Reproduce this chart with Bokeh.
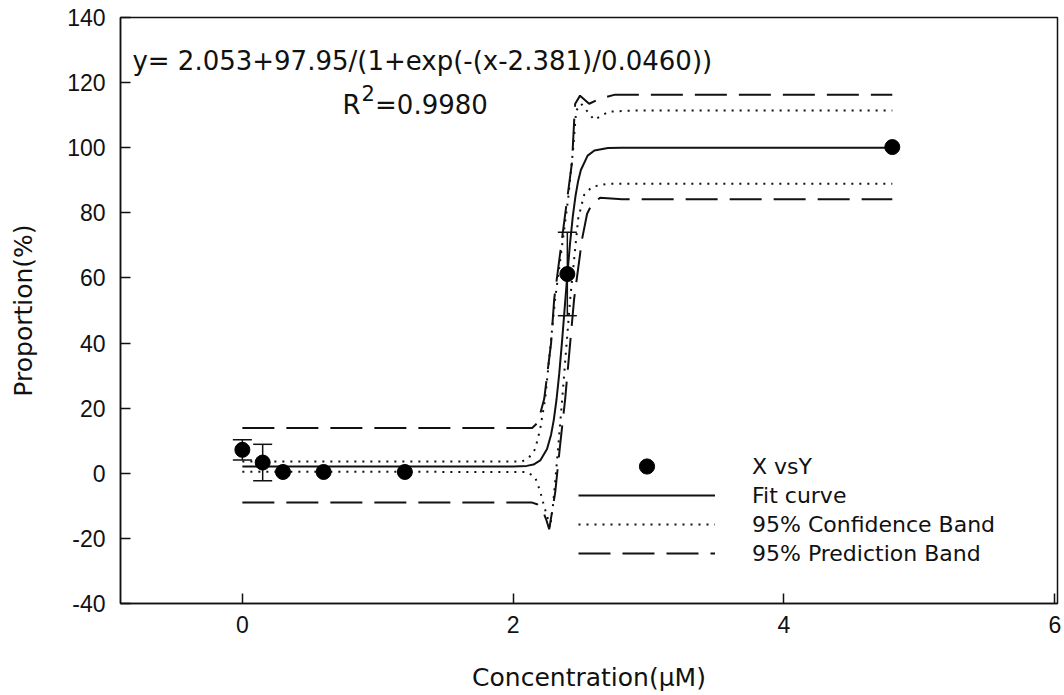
from bokeh.plotting import figure
from bokeh.models import (Range1d, FixedTicker, Legend, LegendItem, Label,
                          Whisker, TeeHead, ColumnDataSource, PrintfTickFormatter)
from bokeh.embed import file_html
from bokeh.resources import INLINE

# ---- data ----
x_data = [0.0, 0.15, 0.3, 0.6, 1.2, 2.4, 4.8]
y_data = [7.2, 3.3, 0.4, 0.4, 0.4, 61.2, 100.2]
y_err = [3.1, 5.6, 0.0, 0.0, 0.0, 12.8, 0.0]

fit_x = [0.0, 2.0, 2.1, 2.15, 2.2, 2.25, 2.28, 2.3, 2.32, 2.34, 2.36, 2.38,
         2.40, 2.42, 2.44, 2.46, 2.48, 2.5, 2.55, 2.6, 2.7, 2.8, 4.8]
fit_y = [2.05, 2.08, 2.27, 2.69, 3.93, 7.43, 11.86, 16.41, 22.59, 30.53, 40.03,
         50.49, 60.99, 70.64, 78.75, 85.09, 89.80, 93.15, 97.57, 99.17, 99.90,
         99.99, 100.0]

ci_up_x = [0.0, 2.066, 2.118, 2.162, 2.199, 2.236, 2.310, 2.406, 2.443, 2.465,
           2.502, 2.531, 2.598, 2.708, 2.878, 4.8]
ci_up_y = [3.6, 3.6, 4.9, 7.4, 13.5, 22.8, 53.5, 84.3, 99.7, 111.4,
           113.5, 112.0, 108.6, 111.1, 111.4, 111.4]

ci_lo_x = [0.0, 2.103, 2.162, 2.199, 2.229, 2.258, 2.273, 2.295, 2.325, 2.362,
           2.421, 2.480, 2.524, 2.583, 2.694, 4.8]
ci_lo_y = [0.5, 0.4, -1.2, -5.5, -10.2, -14.2, -16.6, -9.5, 4.3, 22.8,
           53.5, 78.2, 85.5, 88.0, 88.9, 88.9]

pi_up_x = [0.0, 2.14, 2.177, 2.199, 2.229, 2.280, 2.303, 2.399, 2.435, 2.450,
           2.458, 2.494, 2.561, 2.642, 2.753, 4.8]
pi_up_y = [13.9, 13.9, 15.4, 18.2, 22.8, 40.0, 53.5, 84.3, 95.7, 108.0,
           113.5, 116.0, 113.5, 115.1, 116.3, 116.3]

pi_lo_x = [0.0, 2.140, 2.177, 2.214, 2.244, 2.266, 2.310, 2.345, 2.384, 2.450,
           2.509, 2.546, 2.583, 2.642, 2.804, 4.8]
pi_lo_y = [-9.0, -9.0, -9.5, -11.1, -14.2, -17.2, -6.0, 8.0, 22.8, 53.5,
           72.0, 79.7, 82.8, 84.6, 84.2, 84.2]

x_ticks = [0, 2, 4, 6]
y_ticks = [-40, -20, 0, 20, 40, 60, 80, 100, 120, 140]

equation = "y= 2.053+97.95/(1+exp(-(x-2.381)/0.0460))"
r2_value = "=0.9980"

FONT = "DejaVu Sans"
INK = "#111111"

p = figure(width=1064, height=695, x_range=Range1d(-0.9, 6.02),
           y_range=Range1d(-40, 140), output_backend="svg",
           toolbar_location=None, min_border_left=120, min_border_right=7,
           min_border_top=17, min_border_bottom=92)
p.xgrid.visible = False
p.ygrid.visible = False
p.outline_line_color = INK
p.outline_line_width = 1.5
p.outline_line_alpha = 1.0
p.background_fill_color = "white"
p.border_fill_color = "white"

for ax in (p.xaxis[0], p.yaxis[0]):
    ax.axis_line_color = INK
    ax.axis_line_width = 1.5
    ax.major_tick_line_color = INK
    ax.major_tick_line_width = 1.5
    ax.major_tick_in = 10
    ax.major_tick_out = 0
    ax.minor_tick_line_color = None
    ax.major_label_text_font = "Liberation Sans"
    ax.major_label_text_font_size = "23px"
    ax.major_label_text_color = INK
    ax.axis_label_text_font = FONT
    ax.axis_label_text_font_size = "25px"
    ax.axis_label_text_font_style = "normal"
    ax.axis_label_text_color = INK
    ax.formatter = PrintfTickFormatter(format="%d")

p.xaxis.ticker = FixedTicker(ticks=x_ticks)
p.yaxis.ticker = FixedTicker(ticks=y_ticks)
p.xaxis.axis_label = "Concentration(µM)"
p.yaxis.axis_label = "Proportion(%)"
p.xaxis.major_label_standoff = 12
p.yaxis.major_label_standoff = 15
p.xaxis.axis_label_standoff = 27
p.yaxis.axis_label_standoff = 26

# bands and fit
pi_up = p.line(pi_up_x, pi_up_y, line_color=INK, line_width=2, line_dash="32 12")
p.line(pi_lo_x, pi_lo_y, line_color=INK, line_width=2, line_dash="32 12")
ci_up = p.line(ci_up_x, ci_up_y, line_color=INK, line_width=2, line_dash="2 6")
p.line(ci_lo_x, ci_lo_y, line_color=INK, line_width=2, line_dash="2 6")
fit = p.line(fit_x, fit_y, line_color=INK, line_width=2)

# error bars
ex, lo, hi = [], [], []
for xv, yv, ev in zip(x_data, y_data, y_err):
    if ev > 0:
        ex.append(xv)
        lo.append(yv - ev)
        hi.append(yv + ev)
wsrc = ColumnDataSource(dict(x=ex, lower=lo, upper=hi))
p.add_layout(Whisker(source=wsrc, base="x", lower="lower", upper="upper",
                     line_color=INK, line_width=1.5,
                     upper_head=TeeHead(size=19, line_color=INK, line_width=1.5),
                     lower_head=TeeHead(size=19, line_color=INK, line_width=1.5)))

sc = p.scatter(x_data, y_data, size=15, color="black")

common = dict(glyph_width=137, label_standoff=37, padding=0, margin=0,
              border_line_alpha=0, background_fill_alpha=0,
              label_text_font=FONT, label_text_font_size="22px",
              label_text_color=INK)

legend_pts = Legend(items=[LegendItem(label="X vsY", renderers=[sc])],
                    location=(458, 118), glyph_height=38, label_height=26,
                    spacing=0, **common)
legend_lines = Legend(items=[
    LegendItem(label="Fit curve", renderers=[fit]),
    LegendItem(label="95% Confidence Band", renderers=[ci_up]),
    LegendItem(label="95% Prediction Band", renderers=[pi_up]),
], location=(458, 37), glyph_height=26, label_height=26, spacing=3, **common)
p.add_layout(legend_pts)
p.add_layout(legend_lines)

p.add_layout(Label(x=-0.812, y=126.6, text=equation, text_font=FONT,
                   text_font_size="26px", text_baseline="middle",
                   text_color=INK))
p.add_layout(Label(x=0.74, y=113.2, text="R", text_font=FONT,
                   text_font_size="26px", text_baseline="middle",
                   text_color=INK))
p.add_layout(Label(x=0.88, y=116.8, text="2", text_font=FONT,
                   text_font_size="21px", text_baseline="middle",
                   text_color=INK))
p.add_layout(Label(x=0.98, y=113.2, text=r2_value, text_font=FONT,
                   text_font_size="26px", text_baseline="middle",
                   text_color=INK))

open("out.html", "w").write(file_html(p, INLINE))
